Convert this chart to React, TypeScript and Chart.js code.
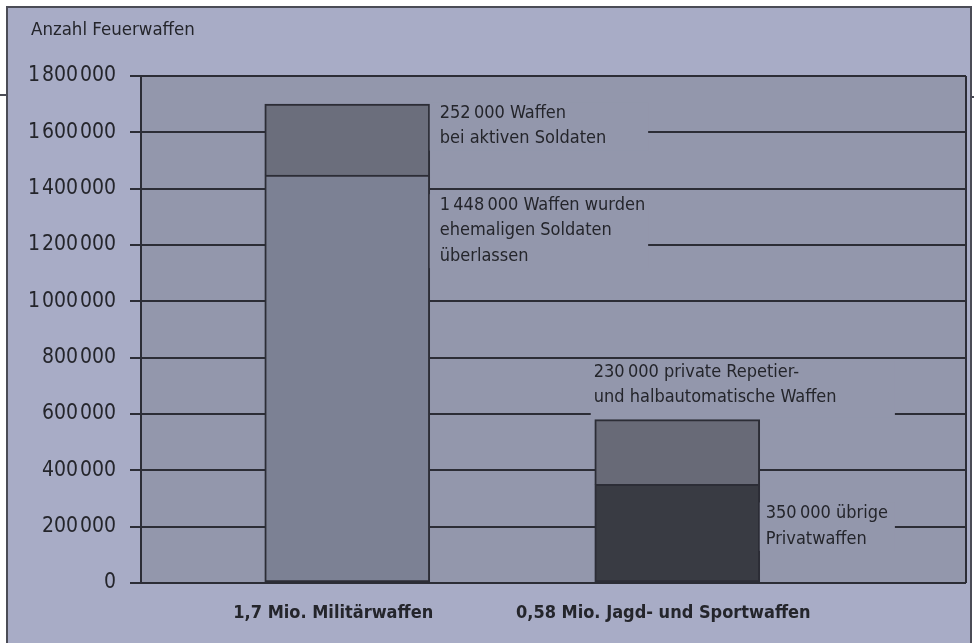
import React, { useEffect, useRef } from 'react';
import { Chart, registerables } from 'chart.js';

Chart.register(...registerables);

// ---------- data ----------
const categories = ['1,7 Mio. Militärwaffen', '0,58 Mio. Jagd- und Sportwaffen'];
const lowerValues = [1448000, 350000];
const upperValues = [252000, 230000];
const yTickValues = [0, 200000, 400000, 600000, 800000, 1000000, 1200000, 1400000, 1600000, 1800000];
const yAxisTitle = 'Anzahl Feuerwaffen';
const upperNotes = [
  ['252\u2009000 Waffen', 'bei aktiven Soldaten'],
  ['230\u2009000 private Repetier-', 'und halbautomatische Waffen'],
];
const lowerNotes = [
  ['1\u2009448\u2009000 Waffen wurden', 'ehemaligen Soldaten', 'überlassen'],
  ['350\u2009000 übrige', 'Privatwaffen'],
];

// ---------- layout / style ----------
const SLOT_COUNT = 10;
const SLOTS = [2, 6];
const lowerColors = ['#7c8194', '#393b43'];
const upperColors = ['#6b6e7c', '#686a77'];
const FONT = "'DejaVu Sans Condensed', 'Liberation Sans Narrow', 'Arial Narrow', sans-serif";
const FRAME_BG = '#a8acc6';
const PLOT_BG = '#9397ac';
const LINE = '#2c2d36';
const TEXT = '#24252b';

const fmt = (v: number) => {
  const s = String(Math.round(v));
  return s.replace(/\B(?=(\d{3})+(?!\d))/g, '\u200a');
};

function slotArray<T>(vals: T[], empty: any): any[] {
  const arr = new Array(SLOT_COUNT).fill(empty);
  SLOTS.forEach((s, i) => (arr[s] = vals[i]));
  return arr;
}

const decor = {
  id: 'decor',
  beforeDraw(chart: any) {
    const { ctx, chartArea: a, width, height } = chart;
    ctx.save();
    ctx.fillStyle = '#ffffff';
    ctx.fillRect(0, 0, width, height);
    ctx.fillStyle = FRAME_BG;
    ctx.fillRect(7, 7, 965, height);
    ctx.strokeStyle = '#4b4c56';
    ctx.lineWidth = 2;
    ctx.beginPath();
    ctx.moveTo(7, height);
    ctx.lineTo(7, 7);
    ctx.lineTo(971, 7);
    ctx.lineTo(971, height);
    ctx.moveTo(0, 95);
    ctx.lineTo(7, 95);
    ctx.moveTo(971, 97);
    ctx.lineTo(974, 97);
    ctx.stroke();
    ctx.fillStyle = PLOT_BG;
    ctx.fillRect(a.left, a.top, a.right - a.left, a.bottom - a.top);
    ctx.fillStyle = TEXT;
    ctx.font = `18.5px ${FONT}`;
    ctx.textBaseline = 'alphabetic';
    ctx.textAlign = 'left';
    ctx.fillText(yAxisTitle, 31, 35);
    ctx.restore();
  },
  afterDatasetsDraw(chart: any) {
    const { ctx, chartArea: a } = chart;
    const lo = chart.getDatasetMeta(0).data;
    const up = chart.getDatasetMeta(1).data;
    ctx.save();
    ctx.font = `18px ${FONT}`;
    ctx.textBaseline = 'middle';
    ctx.textAlign = 'left';
    const measure = (lines: string[]) => Math.max(...lines.map((l) => ctx.measureText(l).width));
    const LH = 25.5;
    const drawLines = (lines: string[], x: number, y0: number) => {
      ctx.fillStyle = TEXT;
      lines.forEach((l, i) => ctx.fillText(l, x, y0 + i * LH));
    };
    const mask = (x1: number, y1: number, x2: number, y2: number) => {
      ctx.fillStyle = PLOT_BG;
      ctx.fillRect(x1, y1, x2 - x1, y2 - y1);
    };

    // group 1 (first bar)
    const u1: any = up[SLOTS[0]];
    const l1: any = lo[SLOTS[0]];
    const r1 = u1.x + u1.width / 2;
    const xA = r1 + 10;
    const w1 = Math.max(measure(upperNotes[0]), measure(lowerNotes[0]));
    const gap1 = xA + w1 + 3;
    const aY = u1.y + 9;
    const bY = l1.y + 30;
    mask(r1, aY - 11, gap1, aY + LH * (upperNotes[0].length - 1) + 12);
    mask(r1, bY - 11, gap1, bY + LH * (lowerNotes[0].length - 1) + 12);
    drawLines(upperNotes[0], xA, aY);
    drawLines(lowerNotes[0], xA, bY);

    // group 2 (second bar)
    const u2: any = up[SLOTS[1]];
    const l2: any = lo[SLOTS[1]];
    const left2 = u2.x - u2.width / 2;
    const r2 = u2.x + u2.width / 2;
    const xC = left2 - 1;
    const xD = r2 + 6;
    const cLast = u2.y - 22;
    const cY = cLast - LH * (upperNotes[1].length - 1);
    const dY = l2.y + 29;
    const gap2 = Math.max(xC + measure(upperNotes[1]), xD + measure(lowerNotes[1])) + 7;
    mask(left2 - 4, cY - 11, gap2, u2.y - 2);
    mask(r2, dY - 11, gap2, dY + LH * (lowerNotes[1].length - 1) + 12);
    drawLines(upperNotes[1], xC, cY);
    drawLines(lowerNotes[1], xD, dY);

    // right edge of plot
    ctx.strokeStyle = LINE;
    ctx.lineWidth = 2;
    ctx.beginPath();
    ctx.moveTo(a.right, a.top);
    ctx.lineTo(a.right, a.bottom);
    ctx.stroke();
    ctx.restore();
  },
};

export default function App() {
  const ref = useRef<HTMLCanvasElement | null>(null);
  useEffect(() => {
    if (!ref.current) return;
    const chart = new Chart(ref.current, {
      type: 'bar',
      data: {
        labels: slotArray(categories, ''),
        datasets: [
          {
            label: 'lower',
            data: slotArray(lowerValues, null),
            backgroundColor: slotArray(lowerColors, 'transparent'),
            borderColor: LINE,
            borderWidth: 2,
            borderSkipped: false,
            barThickness: 165,
            stack: 's',
          },
          {
            label: 'upper',
            data: slotArray(upperValues, null),
            backgroundColor: slotArray(upperColors, 'transparent'),
            borderColor: LINE,
            borderWidth: 2,
            borderSkipped: 'start',
            barThickness: 165,
            stack: 's',
          },
        ],
      },
      options: {
        responsive: false,
        animation: false,
        layout: { padding: { top: 76, right: 8, bottom: 0, left: 0 } },
        plugins: { legend: { display: false }, tooltip: { enabled: false }, title: { display: false } },
        scales: {
          x: {
            stacked: true,
            offset: true,
            grid: { display: false, drawTicks: false },
            border: { display: false },
            ticks: {
              autoSkip: false,
              maxRotation: 0,
              minRotation: 0,
              padding: 20,
              labelOffset: -14,
              color: TEXT,
              font: { family: FONT, size: 18, weight: 'bold' },
            },
            afterFit: (s: any) => {
              s.height = 60;
            },
          },
          y: {
            stacked: true,
            min: 0,
            max: 1800000,
            afterBuildTicks: (s: any) => {
              s.ticks = yTickValues.map((v) => ({ value: v }));
            },
            grid: { color: LINE, lineWidth: 2, tickLength: 11, drawTicks: true },
            border: { display: true, color: LINE, width: 2 },
            ticks: {
              padding: 14,
              color: TEXT,
              font: { family: FONT, size: 21 },
              callback: (v: any) => fmt(Number(v)),
            },
            afterFit: (s: any) => {
              s.width = 141;
            },
          },
        },
      },
      plugins: [decor],
    });
    return () => chart.destroy();
  }, []);
  return (
    <div style={{ position: 'fixed', left: 0, top: 0, width: 974, height: 643, background: '#fff' }}>
      <canvas ref={ref} width={974} height={643} style={{ display: 'block', width: 974, height: 643 }} />
    </div>
  );
}
